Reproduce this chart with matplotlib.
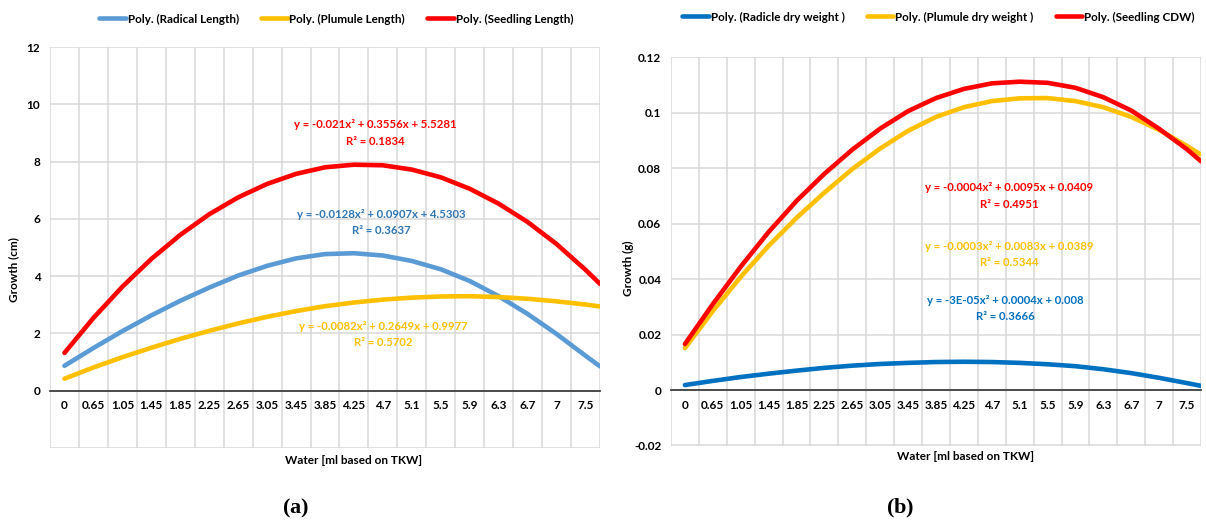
import numpy as np
import matplotlib
matplotlib.use('Agg')
import matplotlib.pyplot as plt

plt.rcParams['font.family'] = ['Lato', 'DejaVu Sans']
plt.rcParams['font.weight'] = 'bold'
plt.rcParams['mathtext.fontset'] = 'custom'
plt.rcParams['mathtext.rm'] = 'Liberation Serif'
plt.rcParams['mathtext.bf'] = 'Liberation Serif:bold'

categories = ['0', '0.65', '1.05', '1.45', '1.85', '2.25', '2.65', '3.05', '3.45', '3.85',
              '4.25', '4.7', '5.1', '5.5', '5.9', '6.3', '6.7', '7', '7.5']

# (a) trendline values read at each category, last value at the right edge of the plot
radical_length = [0.87, 1.49, 2.08, 2.63, 3.14, 3.60, 4.02, 4.36, 4.62, 4.77,
                  4.80, 4.72, 4.53, 4.24, 3.83, 3.30, 2.68, 1.98, 1.22, 0.85]
plumule_length = [0.42, 0.81, 1.17, 1.50, 1.81, 2.09, 2.35, 2.58, 2.78, 2.95,
                  3.08, 3.18, 3.25, 3.29, 3.30, 3.27, 3.21, 3.12, 3.01, 2.94]
seedling_length = [1.32, 2.54, 3.63, 4.60, 5.44, 6.16, 6.75, 7.22, 7.57, 7.80,
                   7.89, 7.87, 7.72, 7.45, 7.05, 6.53, 5.89, 5.12, 4.22, 3.73]

# (b)
radicle_dw = [0.0018, 0.0033, 0.0047, 0.0059, 0.0070, 0.0080, 0.0088, 0.0094, 0.0098, 0.0101,
              0.0102, 0.0101, 0.0098, 0.0093, 0.0086, 0.0075, 0.0061, 0.0044, 0.0025, 0.0015]
plumule_dw = [0.0151, 0.0285, 0.0408, 0.0520, 0.0621, 0.0712, 0.0797, 0.0871, 0.0935, 0.0985,
              0.1020, 0.1042, 0.1052, 0.1053, 0.1042, 0.1020, 0.0985, 0.0938, 0.0880, 0.0849]
seedling_cdw = [0.0166, 0.0310, 0.0445, 0.0570, 0.0682, 0.0780, 0.0867, 0.0943, 0.1006, 0.1053,
                0.1086, 0.1106, 0.1112, 0.1108, 0.1090, 0.1056, 0.1008, 0.0942, 0.0868, 0.0825]

eq_a = [('y = -0.021x² + 0.3556x + 5.5281', 'R² = 0.1834'),
        ('y = -0.0128x² + 0.0907x + 4.5303', 'R² = 0.3637'),
        ('y = -0.0082x² + 0.2649x + 0.9977', 'R² = 0.5702')]
eq_b = [('y = -0.0004x² + 0.0095x + 0.0409', 'R² = 0.4951'),
        ('y = -0.0003x² + 0.0083x + 0.0389', 'R² = 0.5344'),
        ('y = -3E-05x² + 0.0004x + 0.008', 'R² = 0.3666')]

W, H = 1206, 522
fig = plt.figure(figsize=(W / 100, H / 100), dpi=100)


def fx(px):
    return px / W


def fy(py):
    return 1 - py / H


n = len(categories)
xpos = np.append(np.arange(n), n - 0.5)

axA = fig.add_axes([fx(50), fy(448), fx(550), fy(47) - fy(448)])
axB = fig.add_axes([fx(671), fy(445.5), fx(530), fy(57.3) - fy(445.5)])

GRID = '#d9d9d9'


def style(ax, ylim, yticks, ylabels):
    ax.set_xlim(-0.5, n - 0.5)
    ax.set_ylim(*ylim)
    ax.set_xticks(np.arange(n))
    ax.set_xticklabels(categories)
    ax.set_xticks(np.arange(-0.5, n), minor=True)
    ax.set_yticks(yticks)
    ax.set_yticklabels(ylabels)
    ax.grid(which='minor', axis='x', color=GRID, lw=1.1)
    ax.grid(which='major', axis='y', color=GRID, lw=1.1)
    for s in ['left', 'right', 'top']:
        ax.spines[s].set_visible(False)
    ax.spines['bottom'].set_position(('data', 0))
    ax.spines['bottom'].set_color('#404040')
    ax.spines['bottom'].set_linewidth(1.3)
    ax.tick_params(axis='both', which='both', length=0, labelsize=8.5, colors='#000000')
    ax.tick_params(axis='x', pad=7)
    ax.tick_params(axis='y', pad=7)
    ax.set_axisbelow(True)


LW = 3.3
kw = dict(lw=LW, solid_capstyle='round', solid_joinstyle='round')
la1, = axA.plot(xpos, radical_length, color='#5B9BD5', **kw)
la2, = axA.plot(xpos, plumule_length, color='#FFC000', **kw)
la3, = axA.plot(xpos, seedling_length, color='#FF0000', **kw)
style(axA, (-2, 12), [-2, 0, 2, 4, 6, 8, 10, 12], ['', '0', '2', '4', '6', '8', '10', '12'])

lb1, = axB.plot(xpos, radicle_dw, color='#0070C0', **kw)
lb2, = axB.plot(xpos, plumule_dw, color='#FFC000', **kw)
lb3, = axB.plot(xpos, seedling_cdw, color='#FF0000', **kw)
style(axB, (-0.02, 0.12), [-0.02, 0, 0.02, 0.04, 0.06, 0.08, 0.1, 0.12],
      ['-0.02', '0', '0.02', '0.04', '0.06', '0.08', '0.1', '0.12'])

leg_kw = dict(loc='center left', ncol=3, frameon=False, fontsize=8.4, handlelength=2.3,
              handletextpad=0.15, columnspacing=1.9, borderpad=0, borderaxespad=0)
fig.legend([la1, la2, la3], ['Poly. (Radical Length)', 'Poly. (Plumule Length)', 'Poly. (Seedling Length)'],
           bbox_to_anchor=(fx(99), fy(19)), **leg_kw)
fig.legend([lb1, lb2, lb3], ['Poly. (Radicle dry weight )', 'Poly. (Plumule dry weight )', 'Poly. (Seedling CDW)'],
           bbox_to_anchor=(fx(682), fy(17)), **leg_kw)

# equation labels
EQ_FS = 8.2
for (t1, t2), (px, py), c in zip(eq_a, [(375, 125), (381, 215), (383, 326)],
                                 ['#FF0000', '#2E75B6', '#FFC000']):
    fig.text(fx(px), fy(py), t1, color=c, fontsize=EQ_FS, ha='center', va='center')
    fig.text(fx(px), fy(py + 16), t2, color=c, fontsize=EQ_FS, ha='center', va='center')
for (t1, t2), (px, py), c in zip(eq_b, [(1009, 188), (1009, 246), (1005, 300)],
                                 ['#FF0000', '#FFC000', '#0070C0']):
    fig.text(fx(px), fy(py), t1, color=c, fontsize=EQ_FS, ha='center', va='center')
    fig.text(fx(px), fy(py + 16), t2, color=c, fontsize=EQ_FS, ha='center', va='center')

# axis titles
fig.text(fx(354), fy(460), 'Water [ml based on TKW]', fontsize=8.5, ha='center', va='center')
fig.text(fx(966), fy(457), 'Water [ml based on TKW]', fontsize=8.5, ha='center', va='center')
fig.text(fx(14), fy(270), 'Growth (cm)', fontsize=8.5, rotation=90, ha='center', va='center')
fig.text(fx(628), fy(268), 'Growth (g)', fontsize=8.5, rotation=90, ha='center', va='center')

# captions
fig.text(fx(296), fy(508), r'$\mathrm{(}\mathbf{a}\mathrm{)}$', fontsize=16, ha='center', va='center')
fig.text(fx(900), fy(508), r'$\mathrm{(}\mathbf{b}\mathrm{)}$', fontsize=16, ha='center', va='center')

fig.savefig('out.png', dpi=100)
